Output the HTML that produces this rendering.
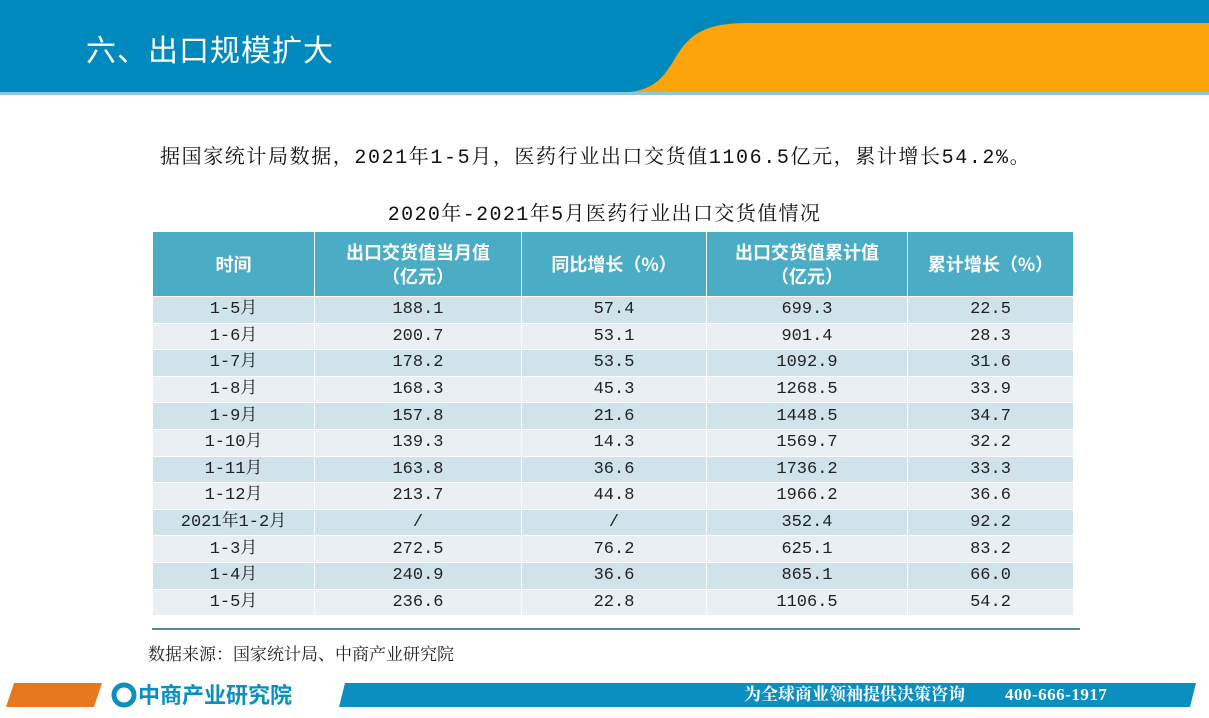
<!DOCTYPE html>
<html><head><meta charset="utf-8"><style>
body{margin:0;width:1209px;height:718px;position:relative;overflow:hidden;background:#fff;font-family:"Liberation Serif","Noto Serif CJK SC",serif;}
.abs{position:absolute}
table{position:absolute;left:152px;top:231px;width:921px;border-collapse:collapse;table-layout:fixed}
td,th{border:1px solid #fff;text-align:center;padding:0;font-size:18px;color:#222}
th{background:#4bacc6;color:#fff;height:64px;font-weight:bold;font-family:"Noto Sans CJK SC",sans-serif;font-size:18px;line-height:24px}
td{height:25.6px;line-height:25px;font-family:"Liberation Mono","Noto Serif CJK SC",monospace;font-size:17px}
tr:nth-child(even) td{background:#d0e2ea}
tr:nth-child(odd) td{background:#e9eff2}
</style></head><body>
<div class="abs" style="left:0;top:0;width:1209px;height:93px;background:#0089bd"></div>
<svg class="abs" style="left:0;top:0" width="1209" height="96">
<path d="M612,93 C648,93 660,84 674,60 C690,33 705,23 750,23 L1209,23 L1209,93 Z" fill="#fca40a"/>
<rect x="0" y="92" width="1209" height="3" fill="#8cc7dc"/>
</svg>
<div class="abs" style="left:86px;top:26px;color:#fff;font-size:30px;font-family:'Noto Sans CJK SC',sans-serif;letter-spacing:1px">六、出口规模扩大</div>
<div class="abs" style="left:160px;top:140px;font-size:20px;color:#111;font-family:'Liberation Mono','Noto Serif CJK SC',monospace;letter-spacing:1.6px">据国家统计局数据，2021年1-5月，医药行业出口交货值1106.5亿元，累计增长54.2%。</div>
<div class="abs" style="left:0;width:1209px;top:197px;text-align:center;font-size:20px;color:#111;font-family:'Liberation Mono','Noto Serif CJK SC',monospace;letter-spacing:1.4px">2020年-2021年5月医药行业出口交货值情况</div>
<table>
<colgroup><col style="width:162px"><col style="width:207px"><col style="width:185px"><col style="width:201px"><col style="width:166px"></colgroup>
<tr><th>时间</th><th>出口交货值当月值<br>（亿元）</th><th>同比增长（%）</th><th>出口交货值累计值<br>（亿元）</th><th>累计增长（%）</th></tr>
<tr><td>1-5月</td><td>188.1</td><td>57.4</td><td>699.3</td><td>22.5</td></tr>
<tr><td>1-6月</td><td>200.7</td><td>53.1</td><td>901.4</td><td>28.3</td></tr>
<tr><td>1-7月</td><td>178.2</td><td>53.5</td><td>1092.9</td><td>31.6</td></tr>
<tr><td>1-8月</td><td>168.3</td><td>45.3</td><td>1268.5</td><td>33.9</td></tr>
<tr><td>1-9月</td><td>157.8</td><td>21.6</td><td>1448.5</td><td>34.7</td></tr>
<tr><td>1-10月</td><td>139.3</td><td>14.3</td><td>1569.7</td><td>32.2</td></tr>
<tr><td>1-11月</td><td>163.8</td><td>36.6</td><td>1736.2</td><td>33.3</td></tr>
<tr><td>1-12月</td><td>213.7</td><td>44.8</td><td>1966.2</td><td>36.6</td></tr>
<tr><td>2021年1-2月</td><td>/</td><td>/</td><td>352.4</td><td>92.2</td></tr>
<tr><td>1-3月</td><td>272.5</td><td>76.2</td><td>625.1</td><td>83.2</td></tr>
<tr><td>1-4月</td><td>240.9</td><td>36.6</td><td>865.1</td><td>66.0</td></tr>
<tr><td>1-5月</td><td>236.6</td><td>22.8</td><td>1106.5</td><td>54.2</td></tr>
</table>
<div class="abs" style="left:152px;top:628px;width:928px;height:2px;background:#5b8098"></div>
<div class="abs" style="left:148px;top:640px;font-size:17px;color:#222">数据来源：国家统计局、中商产业研究院</div>
<svg class="abs" style="left:0;top:680px" width="1209" height="30">
<polygon points="14,3 102,3 94,27 6,27" fill="#e8781c"/>
<polygon points="345,3 1196,3 1190,27 339,27" fill="#0b8fbf"/>
<circle cx="124" cy="15" r="10" fill="none" stroke="#0b8fbf" stroke-width="5"/>
</svg>
<div class="abs" style="left:138px;top:681px;font-size:22px;color:#0b8fbf;font-family:'Noto Sans CJK SC',sans-serif;font-weight:bold;line-height:26px">中商产业研究院</div>
<div class="abs" style="left:744px;top:684px;font-size:17px;color:#fff;line-height:22px;font-weight:bold">为全球商业领袖提供决策咨询</div>
<div class="abs" style="left:1005px;top:684px;font-size:17px;color:#fff;line-height:22px;font-weight:bold;letter-spacing:0.5px">400-666-1917</div>
</body></html>
